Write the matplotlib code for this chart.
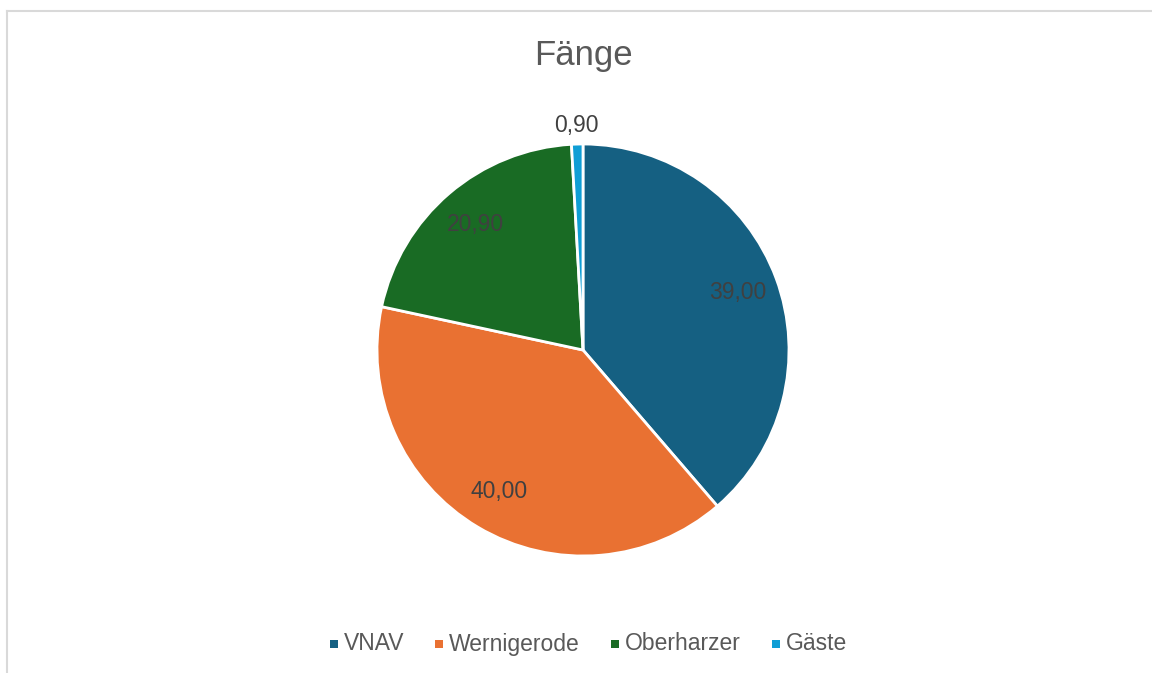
"""Pie chart of catches (Fänge) per club."""

import numpy as np
import matplotlib
matplotlib.use("Agg")
import matplotlib.pyplot as plt
from matplotlib.lines import Line2D
from matplotlib.patches import Rectangle

categories = ["VNAV", "Wernigerode", "Oberharzer", "Gäste"]
values = [39.00, 40.00, 20.90, 0.90]
colors = ["#156082", "#E97132", "#196B24", "#0F9ED5"]

plt.rcParams["font.family"] = ["Liberation Sans", "DejaVu Sans"]

W, H = 1152, 673
fig = plt.figure(figsize=(W / 100, H / 100), dpi=100)

# light grey frame (top and left edges visible in the reference)
fig.add_artist(Line2D([6.5 / W, 6.5 / W], [0, 1 - 10.5 / H], transform=fig.transFigure,
                      color="#d9d9d9", lw=1.5))
fig.add_artist(Line2D([6.5 / W, 1], [1 - 10.5 / H, 1 - 10.5 / H], transform=fig.transFigure,
                      color="#d9d9d9", lw=1.5))

ax = fig.add_axes([(583 - 206) / W, 1 - 556 / H, 412 / W, 412 / H])
wedges, _ = ax.pie(values, colors=colors, startangle=90, counterclock=False, radius=1,
                   wedgeprops=dict(edgecolor="white", linewidth=2))
ax.set_xlim(-1, 1)
ax.set_ylim(-1, 1)
ax.set_aspect("equal")
ax.axis("off")

for w, v in zip(wedges, values):
    mid = np.deg2rad((w.theta1 + w.theta2) / 2)
    r = 1.09 if v < 5 else 0.80
    ax.text(r * np.cos(mid), r * np.sin(mid), f"{v:.2f}".replace(".", ","),
            ha="center", va="center", fontsize=16.5, color="#404040", clip_on=False)

fig.text(583 / W, 1 - 55 / H, "Fänge", ha="center", va="center", fontsize=25, color="#595959")

# legend row, laid out by hand so all labels share one baseline
renderer = fig.canvas.get_renderer()
sq, sq_gap, col_gap = 8, 6, 31
base_y = 1 - 650.5 / H
texts = [fig.text(0, base_y, c, ha="left", va="baseline", fontsize=16.5, color="#595959")
         for c in categories]
tw = [t.get_window_extent(renderer).width for t in texts]
total = sum(sq + sq_gap + w for w in tw) + col_gap * (len(tw) - 1)
x = 588.5 - total / 2
for t, w, c in zip(texts, tw, colors):
    fig.add_artist(Rectangle((x / W, 1 - 648 / H), sq / W, sq / H, transform=fig.transFigure,
                             facecolor=c, edgecolor="none"))
    t.set_x((x + sq + sq_gap) / W)
    x += sq + sq_gap + w + col_gap

fig.savefig("out.png", dpi=100, facecolor="white")
